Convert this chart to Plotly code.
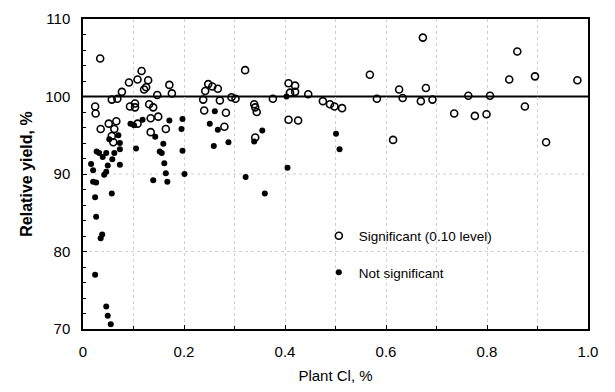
import plotly.graph_objects as go

# Significant (0.10 level) -- open circles
sig_cl = [0.034, 0.116, 0.091, 0.108, 0.129, 0.125, 0.121, 0.171, 0.176, 0.147,
          0.077, 0.057, 0.068, 0.024, 0.025, 0.093, 0.103, 0.103, 0.131, 0.139,
          0.134, 0.149, 0.035, 0.051, 0.066, 0.062, 0.108, 0.134, 0.164, 0.057,
          0.060, 0.321, 0.248, 0.256, 0.267, 0.242, 0.238, 0.271, 0.294, 0.302,
          0.339, 0.341, 0.344, 0.376, 0.240, 0.283, 0.280, 0.341, 0.407, 0.426,
          0.407, 0.420, 0.410, 0.420, 0.446, 0.475, 0.489, 0.498, 0.513, 0.568,
          0.582, 0.614, 0.626, 0.633, 0.669, 0.679, 0.692, 0.735, 0.776, 0.799,
          0.875, 0.844, 0.895, 0.917, 0.979, 0.673, 0.860, 0.763, 0.806]
sig_yield = [104.9, 103.3, 101.8, 102.2, 102.1, 101.2, 100.9, 101.5, 100.4, 100.2,
             100.6, 99.6, 99.7, 98.7, 97.8, 98.7, 99.1, 98.6, 99.0, 98.6,
             97.2, 97.4, 95.8, 96.5, 96.8, 95.8, 96.5, 95.4, 95.8, 94.9,
             94.1, 103.4, 101.6, 101.3, 101.0, 100.7, 99.6, 99.5, 99.9, 99.7,
             99.0, 98.6, 98.0, 99.7, 98.2, 97.9, 96.1, 94.7, 97.0, 96.9,
             101.7, 101.4, 100.5, 100.6, 100.3, 99.4, 99.0, 98.7, 98.5, 102.8,
             99.7, 94.4, 100.9, 99.8, 99.4, 101.1, 99.6, 97.8, 97.5, 97.7,
             98.7, 102.2, 102.6, 94.1, 102.1, 107.6, 105.8, 100.1, 100.1]

# Not significant -- filled circles
ns_cl = [0.094, 0.101, 0.118, 0.171, 0.197, 0.195, 0.070, 0.052, 0.073, 0.143,
         0.073, 0.105, 0.159, 0.027, 0.032, 0.046, 0.039, 0.062, 0.058, 0.152,
         0.156, 0.197, 0.016, 0.049, 0.073, 0.161, 0.020, 0.046, 0.042, 0.164,
         0.201, 0.139, 0.167, 0.020, 0.026, 0.057, 0.024, 0.026, 0.038, 0.035,
         0.024, 0.046, 0.049, 0.055, 0.261, 0.251, 0.267, 0.288, 0.259, 0.355,
         0.339, 0.405, 0.322, 0.360, 0.403, 0.501, 0.508]
ns_yield = [96.5, 96.3, 97.0, 96.9, 97.1, 95.8, 95.0, 94.5, 94.0, 94.8,
            93.2, 93.3, 93.9, 92.9, 92.7, 92.7, 92.2, 92.7, 91.9, 92.9,
            92.7, 93.0, 91.3, 91.1, 91.2, 91.4, 90.5, 90.3, 89.9, 90.1,
            90.0, 89.2, 89.0, 89.0, 88.9, 87.5, 87.0, 84.5, 82.2, 81.7,
            77.0, 72.9, 71.7, 70.6, 98.1, 96.5, 95.7, 94.1, 93.6, 95.6,
            94.2, 90.8, 89.6, 87.5, 100.0, 95.2, 93.2]

ref_level = 100
y_grid_levels = [80, 90]
x_ticks = [0, 0.2, 0.4, 0.6, 0.8, 1.0]
x_tick_labels = ["0", "0.2", "0.4", "0.6", "0.8", "1.0"]
y_ticks = [70, 80, 90, 100, 110]

FONT = "Liberation Sans, Arial, Helvetica, sans-serif"

fig = go.Figure()
fig.add_trace(go.Scatter(
    x=sig_cl, y=sig_yield, mode="markers", name="Significant (0.10 level)",
    legendgroup="a",
    marker=dict(symbol="circle-open", size=7, color="black", line=dict(width=1.6, color="black")),
))
fig.add_trace(go.Scatter(
    x=ns_cl, y=ns_yield, mode="markers", name="Not significant",
    legendgroup="b",
    marker=dict(symbol="circle", size=6, color="black"),
))
for lvl in y_grid_levels:
    fig.add_hline(y=lvl, line=dict(color="#d0d0d0", width=1, dash="dot"), layer="below")
fig.add_hline(y=ref_level, line=dict(color="black", width=2), layer="below")

# the page body adds an 8px margin, so the figure is 599x376 with shifted margins
fig.update_layout(
    width=599, height=376,
    margin=dict(l=75, r=19, t=11, b=55),
    paper_bgcolor="white", plot_bgcolor="white",
    font=dict(family=FONT, color="black", size=15),
    showlegend=True,
    legend=dict(x=0.467, y=0.35, xanchor="left", yanchor="top",
                bgcolor="rgba(0,0,0,0)", font=dict(size=13.5, family=FONT),
                tracegroupgap=16, itemwidth=30),
)
fig.update_xaxes(
    range=[0, 1], tickvals=x_ticks, ticktext=x_tick_labels, automargin=False,
    showline=True, linecolor="black", linewidth=1.5, mirror=True,
    ticks="inside", ticklen=4, tickcolor="black",
    showgrid=True, gridcolor="#d0d0d0", griddash="dot", gridwidth=1,
    minor=dict(dtick=0.1, showgrid=True, gridcolor="#d0d0d0", griddash="dot",
               ticks="inside", ticklen=3, tickcolor="black"),
    zeroline=False, ticklabelstandoff=8,
    title=dict(text="Plant Cl, %", font=dict(size=15, family=FONT), standoff=15),
)
fig.update_yaxes(
    range=[70, 110], tickvals=y_ticks, automargin=False,
    showline=True, linecolor="black", linewidth=1.5, mirror=True,
    ticks="inside", ticklen=4, tickcolor="black",
    showgrid=False,
    minor=dict(dtick=2, ticks="inside", ticklen=3, tickcolor="black"),
    zeroline=False, ticklabelstandoff=8,
    title=dict(text="<b>Relative yield, %</b>", font=dict(size=16, family=FONT), standoff=9),
)

fig.write_html("out.html")
